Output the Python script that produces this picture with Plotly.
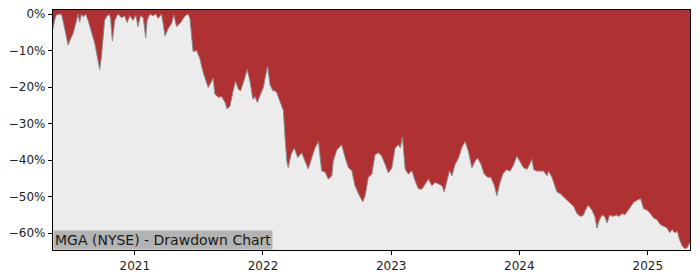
import plotly.graph_objects as go

dates = [
    "2020-05-13", "2020-05-18", "2020-05-23", "2020-06-06", "2020-06-11", "2020-06-20", "2020-06-25", "2020-06-30",
    "2020-07-09", "2020-07-19", "2020-07-23", "2020-07-28", "2020-08-02", "2020-08-07", "2020-08-14", "2020-08-21",
    "2020-08-30", "2020-09-09", "2020-09-18", "2020-09-23", "2020-09-28", "2020-10-03", "2020-10-07", "2020-10-12",
    "2020-10-20", "2020-10-24", "2020-10-29", "2020-11-05", "2020-11-14", "2020-11-24", "2020-12-03", "2020-12-10",
    "2020-12-18", "2020-12-27", "2021-01-04", "2021-01-10", "2021-01-17", "2021-01-25", "2021-02-01", "2021-02-05",
    "2021-02-13", "2021-02-22", "2021-03-02", "2021-03-08", "2021-03-18", "2021-03-23", "2021-03-28", "2021-04-06",
    "2021-04-16", "2021-04-22", "2021-04-30", "2021-05-07", "2021-05-14", "2021-05-24", "2021-06-02", "2021-06-07",
    "2021-06-16", "2021-06-26", "2021-07-05", "2021-07-15", "2021-07-24", "2021-07-29", "2021-08-08", "2021-08-12",
    "2021-08-17", "2021-08-27", "2021-09-05", "2021-09-15", "2021-09-21", "2021-09-29", "2021-10-08", "2021-10-15",
    "2021-10-23", "2021-10-29", "2021-11-06", "2021-11-17", "2021-11-25", "2021-12-03", "2021-12-09", "2021-12-16",
    "2021-12-23", "2022-01-02", "2022-01-07", "2022-01-14", "2022-01-21", "2022-01-29", "2022-02-04", "2022-02-09",
    "2022-02-14", "2022-02-23", "2022-02-28", "2022-03-05", "2022-03-10", "2022-03-14", "2022-03-22", "2022-03-31",
    "2022-04-10", "2022-04-21", "2022-05-01", "2022-05-10", "2022-05-20", "2022-05-29", "2022-06-08", "2022-06-17",
    "2022-06-27", "2022-07-06", "2022-07-16", "2022-07-20", "2022-07-30", "2022-08-13", "2022-08-23", "2022-09-01",
    "2022-09-11", "2022-09-20", "2022-09-30", "2022-10-09", "2022-10-12", "2022-10-19", "2022-10-28", "2022-11-07",
    "2022-11-16", "2022-11-26", "2022-12-05", "2022-12-15", "2022-12-24", "2023-01-03", "2023-01-12", "2023-01-22",
    "2023-01-27", "2023-02-02", "2023-02-10", "2023-02-19", "2023-03-01", "2023-03-10", "2023-03-20", "2023-03-30",
    "2023-04-08", "2023-04-17", "2023-04-27", "2023-05-06", "2023-05-16", "2023-05-26", "2023-06-01", "2023-06-09",
    "2023-06-16", "2023-06-23", "2023-07-02", "2023-07-12", "2023-07-22", "2023-07-31", "2023-08-09", "2023-08-19",
    "2023-08-28", "2023-09-04", "2023-09-14", "2023-09-23", "2023-10-03", "2023-10-12", "2023-10-22", "2023-10-29",
    "2023-11-06", "2023-11-15", "2023-11-25", "2023-12-06", "2023-12-16", "2023-12-25", "2024-01-04", "2024-01-13",
    "2024-01-23", "2024-02-01", "2024-02-06", "2024-02-11", "2024-02-20", "2024-03-01", "2024-03-10", "2024-03-20",
    "2024-03-24", "2024-04-03", "2024-04-12", "2024-04-17", "2024-04-27", "2024-05-06", "2024-05-16", "2024-05-25",
    "2024-06-04", "2024-06-13", "2024-06-23", "2024-07-02", "2024-07-07", "2024-07-15", "2024-07-26", "2024-08-03",
    "2024-08-09", "2024-08-16", "2024-08-24", "2024-08-31", "2024-09-07", "2024-09-14", "2024-09-23", "2024-10-03",
    "2024-10-10", "2024-10-20", "2024-10-27", "2024-11-03", "2024-11-12", "2024-11-22", "2024-12-01", "2024-12-11",
    "2024-12-20", "2024-12-30", "2025-01-08", "2025-01-18", "2025-01-27", "2025-02-06", "2025-02-15", "2025-02-25",
    "2025-03-04", "2025-03-11", "2025-03-19", "2025-03-26", "2025-04-01", "2025-04-09", "2025-04-16", "2025-04-23",
    "2025-05-01",
]

drawdown_pct = [
    -4.0, -1.5, -0.2, 0.0, -2.0, -6.5, -8.5, -7.2,
    -5.4, -1.8, 0.0, -2.2, 0.0, -0.8, 0.0, -1.7,
    -4.5, -8.1, -12.6, -15.2, -11.6, -6.3, -1.7, -0.8,
    0.0, -1.2, -7.4, -1.7, 0.0, -1.0, -0.5, -2.3,
    -0.5, -1.7, -0.3, -3.4, -0.5, -1.0, -6.5, -1.7,
    0.0, -0.5, 0.0, -1.2, 0.0, -2.8, -6.0, -4.0,
    -2.5, -0.2, -3.5, -2.8, -2.0, -0.5, 0.0, -1.2,
    -10.3, -10.0, -12.1, -16.1, -18.8, -20.1, -18.4, -17.5,
    -21.9, -22.8, -22.6, -24.2, -26.0, -25.2, -21.0, -18.4,
    -20.6, -21.0, -18.8, -15.2, -18.4, -23.3, -22.6, -24.2,
    -22.4, -20.1, -17.5, -14.3, -19.3, -21.0, -21.0, -21.5,
    -22.8, -25.5, -26.4, -34.0, -40.3, -42.0, -38.4, -36.7,
    -39.3, -38.0, -40.3, -42.4, -39.3, -36.7, -34.9, -42.9,
    -43.3, -45.2, -44.3, -40.3, -37.2, -35.8, -39.3, -42.0,
    -42.9, -47.0, -49.2, -51.0, -51.4, -49.7, -44.7, -43.8,
    -38.5, -38.0, -38.9, -41.2, -43.5, -42.1, -36.7, -35.8,
    -36.7, -33.6, -42.5, -43.8, -42.9, -45.6, -47.9, -47.9,
    -46.5, -45.2, -47.0, -46.1, -46.5, -47.0, -48.7, -45.6,
    -42.9, -44.3, -41.2, -39.4, -36.3, -34.9, -37.6, -42.1,
    -40.3, -39.4, -41.2, -43.8, -44.7, -44.7, -47.0, -49.7,
    -46.5, -43.8, -42.6, -43.0, -41.2, -38.9, -40.7, -42.1,
    -42.5, -41.0, -39.8, -42.6, -43.0, -43.0, -43.0, -44.3,
    -43.0, -44.7, -47.0, -48.7, -49.2, -50.2, -51.0, -51.8,
    -52.7, -54.6, -55.4, -55.0, -53.7, -52.3, -53.7, -55.4,
    -58.6, -56.3, -55.0, -55.4, -57.2, -55.0, -55.4, -55.0,
    -55.4, -54.6, -55.0, -54.1, -52.8, -51.5, -51.0, -50.5,
    -53.3, -53.7, -54.6, -55.9, -56.3, -57.7, -58.1, -58.6,
    -59.9, -59.0, -59.9, -59.5, -61.7, -63.5, -64.2, -64.0,
    -62.5,
]

y_tick_vals = [0, -10, -20, -30, -40, -50, -60]
y_tick_text = ["0%", "\u221210%", "\u221220%", "\u221230%", "\u221240%", "\u221250%", "\u221260%"]
x_tick_vals = ["2021-01-01", "2022-01-01", "2023-01-01", "2024-01-01", "2025-01-01"]
x_tick_text = ["2021", "2022", "2023", "2024", "2025"]

Y_TOP = 1.1
Y_BOTTOM = -64.6
RED = "#b03131"
BG = "#ececec"

fig = go.Figure()
fig.add_trace(go.Scatter(
    x=dates, y=[Y_TOP] * len(dates), mode="lines",
    line=dict(width=0, color=RED), hoverinfo="skip", showlegend=False,
))
fig.add_trace(go.Scatter(
    x=dates, y=drawdown_pct, mode="lines",
    line=dict(width=1, color="#8a8a8a"),
    fill="tonexty", fillcolor=RED, showlegend=False,
))

axis_common = dict(
    showline=True, linecolor="black", linewidth=1.2, mirror=True,
    ticks="outside", ticklen=4, tickcolor="black", tickwidth=1,
    showgrid=False, zeroline=False,
    tickfont=dict(family="DejaVu Sans", size=12, color="#222"),
)

fig.update_layout(
    width=700, height=280,
    margin=dict(l=53, r=10, t=7, b=28),
    paper_bgcolor="white", plot_bgcolor=BG,
    font=dict(family="DejaVu Sans"),
    xaxis=dict(type="date", range=[dates[0], dates[-1]],
               tickvals=x_tick_vals, ticktext=x_tick_text, **axis_common),
    yaxis=dict(range=[Y_BOTTOM, Y_TOP], tickvals=y_tick_vals, ticktext=y_tick_text, **axis_common),
    annotations=[dict(
        text="MGA (NYSE) - Drawdown Chart", xref="paper", yref="paper",
        x=0, y=0, xanchor="left", yanchor="bottom", showarrow=False,
        font=dict(family="DejaVu Sans", size=14, color="#1a1a1a"),
        bgcolor="#b3b3b3", borderpad=1,
    )],
)

fig.write_html("out.html")
